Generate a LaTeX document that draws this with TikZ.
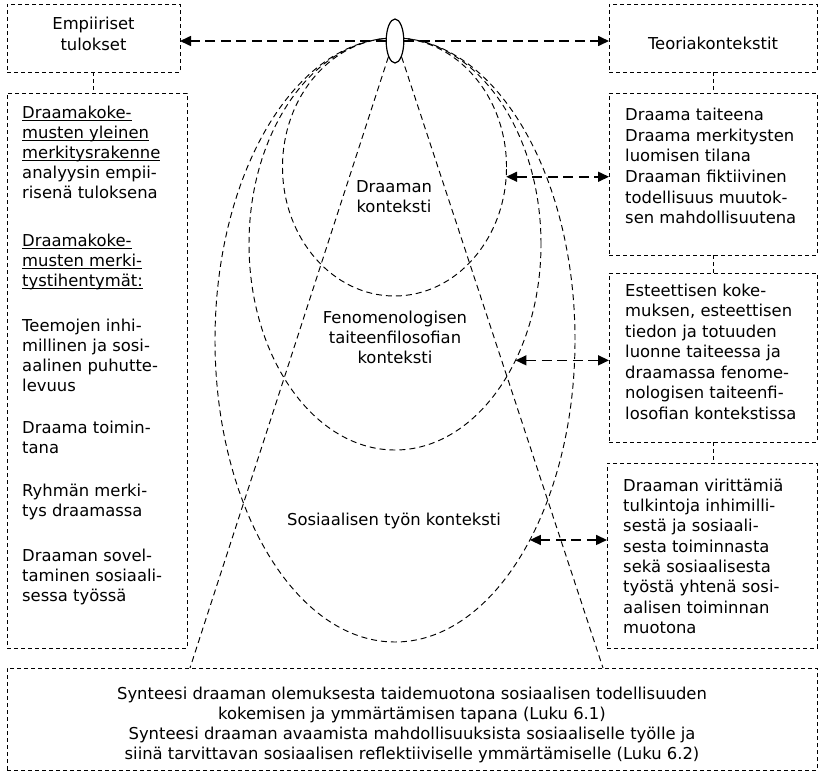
\documentclass[tikz,border=0pt]{standalone}
\usepackage{fontspec}
\setmainfont{DejaVu Sans}
\usetikzlibrary{shapes.geometric,arrows.meta}
\newcommand{\uln}[1]{\setbox0\hbox{#1}\rlap{\rule[-2.6pt]{\wd0}{0.9pt}}\box0}
\begin{document}
\begin{tikzpicture}[x=1pt,y=-1pt,
  box/.style={draw, dash pattern=on 4pt off 3pt, line width=1pt, inner sep=0pt, outer sep=0pt},
  boxline/.style={dash pattern=on 4pt off 3pt, line width=1pt},
  ctx/.style={draw, ellipse, dash pattern=on 6pt off 4pt, line width=0.95pt, inner sep=0pt, outer sep=0pt},
  ctxline/.style={dash pattern=on 6pt off 4pt, line width=0.95pt},
  arr/.style={dash pattern=on 10pt off 5.5pt, line width=1.6pt, -{Triangle[length=11pt,width=10pt]}},
  darr/.style={dash pattern=on 10pt off 5.5pt, line width=1.6pt, {Triangle[length=11pt,width=10pt]}-{Triangle[length=11pt,width=10pt]}},
  txt/.style={inner sep=0pt, font=\fontsize{16.4}{20}\selectfont, align=left, anchor=north west},
]
\useasboundingbox (0,0) rectangle (818,779);

% boxes
\node[box, minimum width=173pt, minimum height=68pt] (emp) at (93.5,38) {};
\node[box, minimum width=180pt, minimum height=555pt] (lbox) at (97,370.5) {};
\node[box, minimum width=208pt, minimum height=68pt] (teo) at (713,38) {};
\node[box, minimum width=208pt, minimum height=162pt] (b2) at (713,174) {};
\node[box, minimum width=208pt, minimum height=169pt] (b3) at (713,357.5) {};
\node[box, minimum width=210pt, minimum height=185pt] (b4) at (712,555.5) {};
\node[box, minimum width=810pt, minimum height=102pt] (syn) at (412,719) {};

% context ellipses
\node[ctx, minimum width=224pt, minimum height=258pt] (c1) at (394.5,167) {};
\node[ctx, minimum width=292pt, minimum height=412pt] (c2) at (395,244) {};
\node[ctx, minimum width=360pt, minimum height=604pt] (c3) at (395,340) {};

% top small ellipse
\node[draw, ellipse, fill=white, line width=1.2pt, minimum width=17.6pt, minimum height=44pt, inner sep=0pt] (top) at (395,41) {};

% cone lines
\coordinate (lb) at (190,668);
\coordinate (rb) at (603,668);
\draw[ctxline] (top.south west) -- (lb);
\draw[ctxline] (top.south east) -- (rb);

% arrows
\draw[arr] (top.west) -- (emp.east |- top.west);
\draw[arr] (top.east) -- (teo.west |- top.east);
\draw[darr] (c1.-5) -- (c1.-5 -| b2.west);
\draw[darr] (c2.-44.5) -- (c2.-44.5 -| b3.west);
\draw[darr] (c3.-56.7) -- (c3.-56.7 -| b4.west);

% box connectors
\draw[boxline] (emp.south) -- (emp.south |- lbox.north);
\draw[boxline] (teo.south) -- (b2.north);
\draw[boxline] (b2.south) -- (b3.north);
\draw[boxline] (b3.south) -- (b3.south |- b4.north);

% texts
\node[txt, anchor=center, align=center, font=\fontsize{16.4}{21.7}\selectfont] (empt) at (93.5,34) {Empiiriset\\tulokset};
\node[txt, anchor=base] (teot) at (713,49) {Teoriakontekstit};

\node[txt] (lt) at (22,105.6) {\uln{Draamakoke-}\\
\uln{musten yleinen}\\
\uln{merkitysrakenne}\\
analyysin empii-\\
risenä tuloksena\\[28pt]
\uln{Draamakoke-}\\
\uln{musten merki-}\\
\uln{tystihentymät:}\\[25pt]
Teemojen inhi-\\
millinen ja sosi-\\
aalinen puhutte-\\
levuus\\[22pt]
Draama toimin-\\
tana\\[23pt]
Ryhmän merki-\\
tys draamassa\\[25pt]
Draaman sovel-\\
taminen sosiaali-\\
sessa työssä};

\node[txt, font=\fontsize{16.4}{20.6}\selectfont] (b2t) at (625,108) {Draama taiteena\\
Draama merkitysten\\
luomisen tilana\\
Draaman fiktiivinen\\
todellisuus muutok-\\
sen mahdollisuutena};

\node[txt, font=\fontsize{16.4}{20.5}\selectfont] (b3t) at (625,283.6) {Esteettisen koke-\\
muksen, esteettisen\\
tiedon ja totuuden\\
luonne taiteessa ja\\
draamassa fenome-\\
nologisen taiteenfi-\\
losofian kontekstissa};

\node[txt, font=\fontsize{16.4}{20.3}\selectfont] (b4t) at (623,478.6) {Draaman virittämiä\\
tulkintoja inhimilli-\\
sestä ja sosiaali-\\
sesta toiminnasta\\
sekä sosiaalisesta\\
työstä yhtenä sosi-\\
aalisen toiminnan\\
muotona};

\node[txt, anchor=center, align=center] (synt) at (412,724.6) {Synteesi draaman olemuksesta taidemuotona sosiaalisen todellisuuden\\
kokemisen ja ymmärtämisen tapana (Luku 6.1)\\
Synteesi draaman avaamista mahdollisuuksista sosiaaliselle työlle ja\\
siinä tarvittavan sosiaalisen reflektiiviselle ymmärtämiselle (Luku 6.2)};

\node[txt, anchor=center, align=center] (c1t) at (394,196.7) {Draaman\\konteksti};
\node[txt, anchor=center, align=center] (c2t) at (395,337.7) {Fenomenologisen\\taiteenfilosofian\\konteksti};
\node[txt, anchor=base] (c3t) at (394,525.8) {Sosiaalisen työn konteksti};
\end{tikzpicture}
\end{document}
